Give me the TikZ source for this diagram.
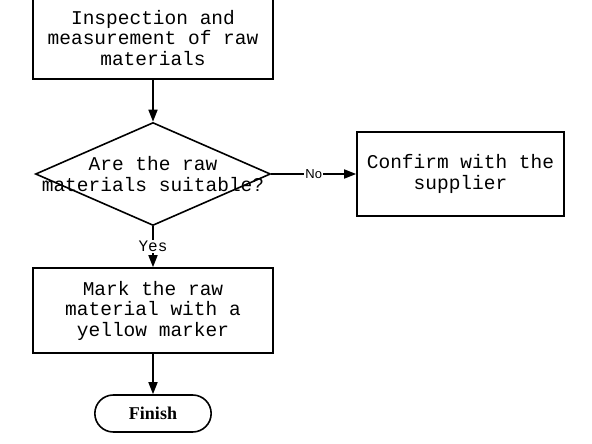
\documentclass[tikz,border=0pt]{standalone}
\usepackage{fontspec}
\setmonofont{Liberation Mono}
\newfontfamily\labelfont{Liberation Sans}
\newfontfamily\finishfont{Liberation Serif}
\usetikzlibrary{shapes.geometric, shapes.misc, arrows.meta}
\tikzset{
  process/.style={draw, line width=1.6pt, minimum width=240pt, minimum height=84pt,
    align=center, font=\ttfamily\fontsize{19.5}{20.5}\selectfont},
  decision/.style={draw, line width=1.6pt, diamond, minimum width=235pt,
    minimum height=103pt, inner sep=0pt},
  terminal/.style={draw, line width=1.6pt, rounded rectangle, minimum width=123pt,
    minimum height=37pt, font=\finishfont\bfseries\fontsize{18}{20}\selectfont},
  flow/.style={line width=1.6pt, -{Triangle[length=12pt,width=9pt]}},
  yeslabel/.style={fill=white, inner sep=1pt, font=\ttfamily\fontsize{16}{17}\selectfont},
  nolabel/.style={fill=white, inner sep=1pt, font=\labelfont\fontsize{13}{14}\selectfont}
}

\begin{document}
\begin{tikzpicture}[x=1pt, y=-1pt]
\useasboundingbox (0,0) rectangle (592,444);
% Steps
\node[process, minimum height=82pt] (inspect) at (153,38) {Inspection and\\measurement of raw\\materials};
\node[decision, label={[align=center, font=\ttfamily\fontsize{19.5}{21}\selectfont]center:{Are the raw\\materials suitable?}}] (check) at (153,174) {};
\node[process, minimum width=207pt] (confirm) at (460.5,174) {Confirm with the\\supplier};
\node[process, minimum height=85pt] (mark) at (153,310.5) {Mark the raw\\material with a\\yellow marker};
\node[terminal] (finish) at (153,413.5) {Finish};
% Arrows
\draw[flow] (inspect) -- (check);
\draw[flow] (check) -- node[nolabel] {No} (confirm);
\draw[flow] (check) -- node[yeslabel] {Yes} (mark);
\draw[flow] (mark) -- (finish);
\end{tikzpicture}
\end{document}
